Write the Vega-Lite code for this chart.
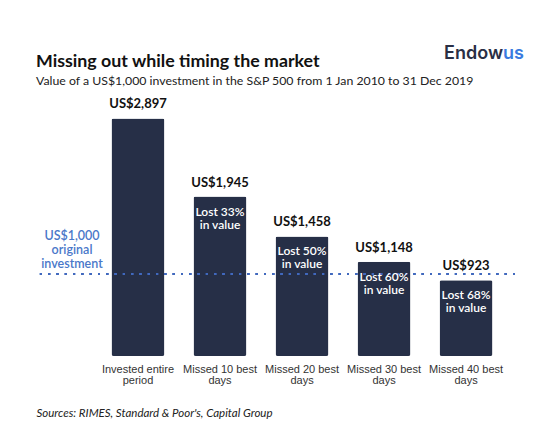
{
  "$schema": "https://vega.github.io/schema/vega-lite/v6.json",
  "autosize": {"type": "none"},
  "width": 477,
  "height": 246,
  "padding": {"left": 38, "right": 40, "top": 110, "bottom": 88},
  "background": "white",
  "config": {"view": {"stroke": null}},
  "title": {
    "text": "Missing out while timing the market",
    "subtitle": "Value of a US$1,000 investment in the S&P 500 from 1 Jan 2010 to 31 Dec 2019",
    "anchor": "start",
    "frame": "group",
    "dx": -2,
    "offset": -42,
    "font": "Lato",
    "fontSize": 17.8,
    "fontWeight": "bold",
    "color": "#111111",
    "subtitleFont": "Lato",
    "subtitleFontSize": 12.3,
    "subtitleColor": "#222222",
    "subtitlePadding": 4
  },
  "data": {
    "values": [
      {"cat": "Invested entire|period", "value": 2897, "label": "US$2,897", "inside": ""},
      {"cat": "Missed 10 best|days", "value": 1945, "label": "US$1,945", "inside": "Lost 33%\nin value"},
      {"cat": "Missed 20 best|days", "value": 1458, "label": "US$1,458", "inside": "Lost 50%\nin value"},
      {"cat": "Missed 30 best|days", "value": 1148, "label": "US$1,148", "inside": "Lost 60%\nin value"},
      {"cat": "Missed 40 best|days", "value": 923, "label": "US$923", "inside": "Lost 68%\nin value"}
    ]
  },
  "layer": [
    {
      "mark": {"type": "bar", "color": "#262f47", "cornerRadius": 2},
      "encoding": {
        "x": {
          "field": "cat",
          "type": "nominal",
          "sort": null,
          "scale": {"paddingInner": 0.354, "paddingOuter": 0.585, "align": 0.766},
          "axis": {
            "title": "Sources: RIMES, Standard & Poor's, Capital Group",
            "titleAnchor": "start",
            "titleAlign": "left",
            "titleBaseline": "alphabetic",
            "titleX": -2,
            "titleY": 60,
            "titleFont": "Lato",
            "titleFontStyle": "italic",
            "titleFontWeight": "normal",
            "titleFontSize": 11.5,
            "titleColor": "#222222",
            "labelExpr": "split(datum.label, '|')",
            "labelAngle": 0,
            "labelFont": "Liberation Sans",
            "labelFontSize": 11,
            "labelColor": "#333333",
            "labelLineHeight": 11,
            "labelPadding": 7,
            "ticks": false,
            "domain": false,
            "grid": false
          }
        },
        "y": {"field": "value", "type": "quantitative", "scale": {"domain": [0, 3000]}, "axis": null}
      }
    },
    {
      "mark": {"type": "rule", "color": "#4169be", "strokeWidth": 2, "strokeDash": [2, 6.3]},
      "encoding": {"y": {"datum": 1000}}
    },
    {
      "mark": {"type": "text", "font": "Lato", "fontSize": 13, "fontWeight": "bold", "color": "#111111", "baseline": "alphabetic", "dy": -10},
      "encoding": {
        "x": {"field": "cat", "type": "nominal", "sort": null},
        "y": {"field": "value", "type": "quantitative"},
        "text": {"field": "label"}
      }
    },
    {
      "mark": {"type": "text", "font": "Lato", "fontSize": 12, "fontWeight": 600, "color": "white", "baseline": "alphabetic", "dy": 19, "lineBreak": "\n", "lineHeight": 13},
      "encoding": {
        "x": {"field": "cat", "type": "nominal", "sort": null},
        "y": {"field": "value", "type": "quantitative"},
        "text": {"field": "inside"}
      }
    },
    {
      "data": {"values": [{"cat": "Invested entire|period", "v": 1000, "note": "US$1,000\noriginal\ninvestment"}]},
      "mark": {"type": "text", "font": "Lato", "fontSize": 12.5, "fontWeight": 600, "color": "#4a78c9", "baseline": "alphabetic", "align": "center", "dx": -66, "dy": -34, "lineBreak": "\n", "lineHeight": 14},
      "encoding": {
        "x": {"field": "cat", "type": "nominal"},
        "y": {"field": "v", "type": "quantitative"},
        "text": {"field": "note"}
      }
    },
    {
      "data": {"values": [{"cat": "Missed 40 best|days", "v": 3000, "a": "Endow", "b": "us"}]},
      "layer": [
        {
          "mark": {"type": "text", "font": "Inter", "fontSize": 18, "fontWeight": 600, "color": "#2a2f45", "baseline": "alphabetic", "align": "right", "dx": 37, "dy": -51},
          "encoding": {
            "x": {"field": "cat", "type": "nominal"},
            "y": {"field": "v", "type": "quantitative"},
            "text": {"field": "a"}
          }
        },
        {
          "mark": {"type": "text", "font": "Inter", "fontSize": 18, "fontWeight": 600, "color": "#3a7be0", "baseline": "alphabetic", "align": "left", "dx": 37, "dy": -51},
          "encoding": {
            "x": {"field": "cat", "type": "nominal"},
            "y": {"field": "v", "type": "quantitative"},
            "text": {"field": "b"}
          }
        }
      ]
    }
  ]
}
